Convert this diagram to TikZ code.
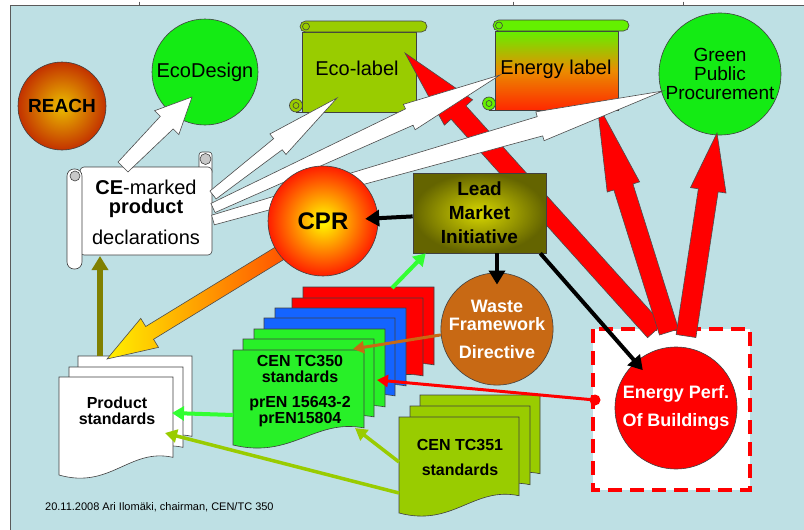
\documentclass[tikz,border=0pt]{standalone}
\usepackage{fontspec}
\setmainfont{Liberation Sans}
\usetikzlibrary{calc,arrows.meta,shapes.geometric}

\definecolor{bg}{RGB}{190,224,228}
\definecolor{framec}{RGB}{90,90,90}
\definecolor{ecogreen}{RGB}{20,235,20}
\definecolor{olivegreen}{RGB}{153,204,0}
\definecolor{docgreen}{RGB}{40,240,40}
\definecolor{docblue}{RGB}{20,100,255}
\definecolor{docred}{RGB}{255,0,0}
\definecolor{wastebrown}{RGB}{200,105,20}
\definecolor{leadin}{RGB}{215,215,0}
\definecolor{leadout}{RGB}{100,100,0}
\definecolor{arrowolive}{RGB}{128,128,0}
\definecolor{linegreen}{RGB}{50,255,50}
\definecolor{scrollgray}{RGB}{200,200,200}
\definecolor{elgreen}{RGB}{100,240,0}
\definecolor{elorange}{RGB}{235,140,0}
\definecolor{elred}{RGB}{255,40,0}
\definecolor{reachin}{RGB}{235,190,0}
\definecolor{reachout}{RGB}{195,50,0}
\definecolor{cprin}{RGB}{255,255,0}
\definecolor{cprout}{RGB}{255,30,0}
\definecolor{gradyellow}{RGB}{255,240,0}
\definecolor{gradorange}{RGB}{255,80,0}

% block arrow: #1 tail, #2 tip, #3 tail half width, #4 neck half width,
% #5 head half width, #6 head length, #7 style
\newcommand\blockarrow[7]{%
  \coordinate (ba-a) at (#1);
  \coordinate (ba-b) at (#2);
  \coordinate (ba-n) at ($(ba-b)!#6!(ba-a)$);
  \path[draw,#7] ($(ba-a)!#3!90:(ba-b)$) -- ($(ba-n)!#4!-90:(ba-a)$)
    -- ($(ba-n)!#5!-90:(ba-a)$) -- (ba-b) -- ($(ba-n)!#5!90:(ba-a)$)
    -- ($(ba-n)!#4!90:(ba-a)$) -- ($(ba-a)!#3!-90:(ba-b)$) -- cycle;
}
% document shape with wavy bottom: #1 style, #2 x0, #3 y0, #4 w, #5 h
\newcommand\docshape[5]{%
  \path[draw,#1] (#2,#3) -- (#2+#4,#3) -- (#2+#4,#3+0.82*#5)
    .. controls (#2+0.62*#4,#3+0.72*#5) and (#2+0.45*#4,#3+1.15*#5) .. (#2,#3+#5) -- cycle;
}
% horizontal scroll: #1 x0, #2 y0 (roll top), #3 x1, #4 y1 (body bottom),
% #5 roll right end, #6 body style, #7 roll style
\newcommand\hscroll[7]{%
  \path[draw,#7] (#1-6,#4-6.5) circle (6.5);
  \path[draw,#6] (#1,#2+11) rectangle (#3,#4);
  \draw[shapeline] (#1-6,#4) -- (#1,#4);
  \draw[shapeline] (#1-6,#4-6.5) circle (3);
  \path[draw,#7,rounded corners=5.5pt] (#1-2,#2) rectangle (#5,#2+11);
  \draw[shapeline] (#1+4,#2+5.5) circle (3.5);
}

\begin{document}
\begin{tikzpicture}[x=1pt,y=-1pt,
  every node/.style={inner sep=0pt, align=center},
  shapeline/.style={draw=black!75, line width=0.6pt},
  whitearrow/.style={draw=black!70, line width=0.6pt, fill=white},
  redarrow/.style={draw=black!70, line width=0.6pt, fill=red},
  blk/.style={draw=black, line width=4pt, -{Triangle[length=14pt,width=16pt]}},
  garrow/.style={draw=linegreen, line width=4pt, -{Triangle[length=12pt,width=14pt]}},
  yarrow/.style={draw=olivegreen, line width=3.5pt, -{Triangle[length=12pt,width=13pt]}},
  brownarrow/.style={draw=wastebrown, line width=3pt, -{Triangle[length=11pt,width=12pt]}},
  redline/.style={draw=red, line width=3pt, -{Triangle[length=11pt,width=12pt]}},
  olivearrow/.style={draw=arrowolive, line width=6pt, -{Triangle[length=14pt,width=16pt]}},
  docstyle/.style={shapeline},
  f20/.style={font=\fontsize{20}{22}\selectfont},
]
\useasboundingbox (0,0) rectangle (804,530);
% background and frame
\fill[white] (0,0) rectangle (804,530);
\fill[bg] (10,5) rectangle (804,530);
\draw[framec, line width=1pt] (10,530) -- (10,5) -- (804,5);
\draw[framec, line width=0.8pt] (139,1.5) -- (139,5) (513,1.5) -- (513,5) (683,1.5) -- (683,5);

% top row
\node[circle, shapeline, inner color=reachin, outer color=reachout, minimum size=88pt,
      font=\fontsize{19}{21}\selectfont\bfseries] (reach) at (62,106) {REACH};
\node[circle, shapeline, fill=ecogreen, minimum size=106pt, f20] (ecod) at (205,72) {EcoDesign};
\hscroll{302}{21}{416}{112}{427}{shapeline, fill=olivegreen}{shapeline, fill=olivegreen}
\node[f20] (ecol) at (357,68) {Eco-label};
\hscroll{495}{20}{618}{110}{629}{shapeline, top color=elgreen, bottom color=elred, middle color=elorange}{shapeline, fill=elgreen}
\node[f20] (enl) at (556,69) {Energy label};
\node[circle, shapeline, fill=ecogreen, minimum size=122pt,
      font=\fontsize{19}{19}\selectfont] (gpp) at (720,74) {Green\\Public\\Procurement};

% Energy performance of buildings box
\draw[red, line width=4.5pt, dash pattern=on 14pt off 8pt, fill=white] (593,329) rectangle (750,490);
\node[circle, shapeline, fill=red, text=white, minimum size=122pt,
      font=\fontsize{18}{28}\selectfont\bfseries] (epb) at (676,408) {Energy Perf.\\Of Buildings};

% red block arrows from the EPB box
\coordinate (r1a) at (655,331); \coordinate (r1b) at (405,53);
\coordinate (r2a) at (669,332); \coordinate (r2b) at (597,103);
\coordinate (r3a) at (686,336); \coordinate (r3b) at (717,133);
\blockarrow{r1a}{r1b}{10pt}{10pt}{19pt}{80pt}{redarrow}
\blockarrow{r2a}{r2b}{10pt}{10pt}{17pt}{88pt}{redarrow}
\blockarrow{r3a}{r3b}{10pt}{10pt}{18pt}{58pt}{redarrow}

% product standards stack
\docshape{docstyle, fill=white}{78}{356}{114}{98}
\docshape{docstyle, fill=white}{69}{367}{114}{98}
\docshape{docstyle, fill=white}{59}{377}{114}{98}
\node[font=\fontsize{16}{16}\selectfont\bfseries] (prod) at (117,411) {Product\\standards};

% CEN TC350 stack
\docshape{docstyle, fill=docred}{303}{287}{131}{95}
\docshape{docstyle, fill=docred}{292}{298}{131}{95}
\docshape{docstyle, fill=docblue}{275}{308}{131}{95}
\docshape{docstyle, fill=docblue}{264}{318}{131}{95}
\docshape{docstyle, fill=docgreen}{254}{329}{131}{95}
\docshape{docstyle, fill=docgreen}{243}{339}{131}{95}
\docshape{docstyle, fill=docgreen}{233}{350}{131}{95}
\node[font=\fontsize{16}{15.5}\selectfont\bfseries] (tc350) at (300,391)
  {CEN TC350\\standards\\[10pt]prEN 15643-2\\prEN15804};

% CEN TC351 stack
\docshape{docstyle, fill=olivegreen}{420}{395}{120}{96}
\docshape{docstyle, fill=olivegreen}{410}{406}{120}{96}
\docshape{docstyle, fill=olivegreen}{399}{417}{120}{96}
\node[font=\fontsize{16}{25}\selectfont\bfseries] (tc351) at (460,457) {CEN TC351\\standards};

% CPR -> product standards (gradient)
\coordinate (cpr-out) at (285,250); \coordinate (prod-in) at (107,359);
\blockarrow{cpr-out}{prod-in}{7.5pt}{7.5pt}{17pt}{50pt}{draw=black!70, line width=0.6pt, left color=gradyellow, right color=gradorange}

% CE-marked product declarations scroll
\filldraw[shapeline, fill=white, rounded corners=3pt] (199,152) rectangle (212,175);
\filldraw[shapeline, fill=scrollgray] (205.5,159) circle (5.5);
\filldraw[shapeline, fill=white, rounded corners=4pt] (80,167) rectangle (212,255);
\filldraw[shapeline, fill=white, rounded corners=7pt] (67,169) rectangle (82,269);
\filldraw[shapeline, fill=scrollgray] (75,176) circle (5);
\node[f20] (ce) at (146,212) {\textbf{CE}-marked\\[-3pt]\textbf{product}\\[9pt]declarations};

% white arrows from CE declarations
\coordinate (ce-a) at (123,167); \coordinate (ecod-in) at (192,97);
\coordinate (ce-b) at (213,195); \coordinate (ecol-in) at (337,98);
\coordinate (ce-c) at (213,208); \coordinate (enl-in) at (500,75);
\coordinate (ce-d) at (213,220); \coordinate (gpp-in) at (663,91);
\blockarrow{ce-a}{ecod-in}{7pt}{9pt}{17pt}{36pt}{whitearrow}
\blockarrow{ce-b}{ecol-in}{5pt}{7pt}{13pt}{75pt}{whitearrow}
\blockarrow{ce-c}{enl-in}{5pt}{9pt}{14pt}{100pt}{whitearrow}
\blockarrow{ce-d}{gpp-in}{5pt}{10pt}{15pt}{128pt}{whitearrow}

% CPR, Lead Market Initiative, Waste Framework Directive
\node[circle, shapeline, inner color=cprin, outer color=cprout, minimum size=110pt,
      font=\fontsize{24}{26}\selectfont\bfseries] (cpr) at (323,221) {CPR};
\node[rectangle, shapeline, inner color=leadin, outer color=leadout,
      minimum width=133pt, minimum height=80pt,
      font=\fontsize{19}{24}\selectfont\bfseries] (lead) at (479.5,213) {Lead\\Market\\Initiative};
\node[circle, shapeline, fill=wastebrown, text=white, minimum size=106pt,
      font=\fontsize{18}{18}\selectfont\bfseries] (waste) at (497,329) {Waste\\Framework\\[10pt]Directive};

% line connectors
\draw[blk, shorten >=-13pt] (lead) -- (cpr);
\draw[blk, shorten >=-12pt] (lead.south -| waste.north) -- (waste.north);
\draw[blk, shorten >=-11pt] ($(lead.south east)+(-6,0)$) -- (epb);
\coordinate (tc350-top) at (392,288);
\coordinate (lead-in) at ($(lead.south west)+(13,0)$);
\draw[garrow] (tc350-top) -- (lead-in);
\coordinate (tc350-brown) at (353,349);
\draw[brownarrow] (waste.186) -- (tc350-brown);
\coordinate (epbdot) at (595,400);
\coordinate (tc350-red) at (377,380);
\draw[redline] (epbdot) -- (tc350-red);
\fill[red] (epbdot) circle (5.5);
\coordinate (tc350-left) at (233,415); \coordinate (prod-right) at (172,413);
\draw[garrow] (tc350-left) -- (prod-right);
\coordinate (tc351-a) at (399,462); \coordinate (tc350-bottom) at (355,428);
\draw[yarrow] (tc351-a) -- (tc350-bottom);
\coordinate (tc351-b) at (399,493); \coordinate (prod-low) at (165,433);
\draw[yarrow] (tc351-b) -- (prod-low);
\coordinate (prod-top) at (100,356); \coordinate (ce-bottom) at (100,256);
\draw[olivearrow] (prod-top) -- (ce-bottom);

% footer
\node[anchor=west, font=\fontsize{11}{13}\selectfont] (footer) at (45,507)
  {20.11.2008 Ari Ilomäki, chairman, CEN/TC 350};
\end{tikzpicture}
\end{document}
